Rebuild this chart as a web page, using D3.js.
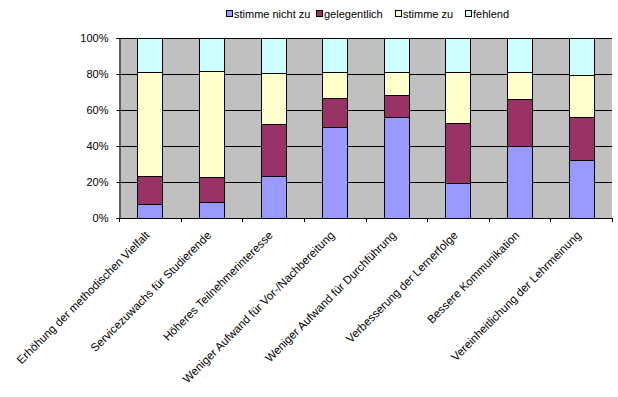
<!DOCTYPE html>
<html><head><meta charset="utf-8">
<script src="https://cdn.jsdelivr.net/npm/d3@7"></script>
<style>body{margin:0;background:#fff}svg{display:block}text{font-family:"Liberation Sans",Arial,sans-serif;font-size:11px;fill:#000}</style>
</head><body><svg id="c" width="618" height="397"></svg>
<script>
const categories = ["Erhöhung der methodischen Vielfalt","Servicezuwachs für Studierende","Höheres Teilnehmerinteresse","Weniger Aufwand für Vor-/Nachbereitung","Weniger Aufwand für Durchführung","Verbesserung der Lernerfolge","Bessere Kommunikation","Vereinheitlichung der Lehrmeinung"];
const seriesNames = ["stimme nicht zu","gelegentlich","stimme zu","fehlend"];
const stimmeNichtZu = [7.8, 8.9, 23.5, 50.6, 56.1, 19.4, 40.0, 32.2];
const gelegentlich  = [15.7, 14.1, 28.7, 16.1, 12.2, 33.4, 26.1, 23.9];
const stimmeZu      = [57.6, 58.7, 28.4, 14.4, 12.8, 28.3, 15.0, 23.3];
const fehlend       = [18.9, 18.3, 19.4, 18.9, 18.9, 18.9, 18.9, 20.6];
const yTicks = [0, 0.2, 0.4, 0.6, 0.8, 1];
const colors = ["#9999ff","#993366","#ffffcc","#ccffff"];

const svg = d3.select("#c");
const m = {l:119, r:612, t:38, b:218};
const x = d3.scaleBand().domain(categories).range([m.l, m.r]).paddingInner(0.595).paddingOuter(0.2975);
const xb = d3.scaleBand().domain(categories).range([m.l, m.r]);
const y = d3.scaleLinear().domain([0,1]).range([m.b, m.t]);

svg.append("rect").attr("x",m.l).attr("y",m.t).attr("width",m.r-m.l).attr("height",m.b-m.t).attr("fill","#c0c0c0");
svg.append("g").selectAll("line").data(yTicks.slice(1)).join("line")
  .attr("x1",m.l).attr("x2",m.r).attr("y1",d=>Math.round(y(d))+0.5).attr("y2",d=>Math.round(y(d))+0.5)
  .attr("stroke","#000").attr("stroke-width",1);

const rows = categories.map((c,i)=>({cat:c, s0:stimmeNichtZu[i], s1:gelegentlich[i], s2:stimmeZu[i], s3:fehlend[i]}));
rows.forEach(r=>{const t=r.s0+r.s1+r.s2+r.s3; ["s0","s1","s2","s3"].forEach(k=>r[k]=r[k]/t);});
const stack = d3.stack().keys(["s0","s1","s2","s3"])(rows);
svg.append("g").selectAll("g").data(stack).join("g").attr("fill",(d,i)=>colors[i])
  .selectAll("rect").data(d=>d).join("rect")
  .attr("x",d=>Math.round(x(d.data.cat))+0.5).attr("width",Math.round(x.bandwidth()))
  .attr("y",d=>Math.round(y(d[1]))+0.5).attr("height",d=>Math.round(y(d[0]))-Math.round(y(d[1])))
  .attr("stroke","#000").attr("stroke-width",1);

// y axis
const ya = svg.append("g").attr("transform",`translate(${m.l+0.5},0)`)
  .call(d3.axisLeft(y).tickValues(yTicks).tickFormat(d3.format(".0%")).tickSize(3).tickPadding(8));
ya.select(".domain").attr("stroke","#000");
ya.selectAll("text").style("font-size","11px").attr("dy","0.35em");
ya.selectAll(".tick line").attr("stroke","#000");

// x axis
const xg = svg.append("g");
xg.append("line").attr("x1",m.l).attr("x2",m.r+0.5).attr("y1",m.b+0.5).attr("y2",m.b+0.5).attr("stroke","#000");
const bounds = categories.map(c=>xb(c)).concat([m.r]);
xg.selectAll("line.t").data(bounds).join("line").attr("class","t")
  .attr("x1",d=>Math.round(d)+0.5).attr("x2",d=>Math.round(d)+0.5).attr("y1",m.b).attr("y2",m.b+4).attr("stroke","#000");
xg.selectAll("text").data(categories).join("text")
  .attr("text-anchor","end").style("font-size","11.5px")
  .attr("transform",d=>`translate(${xb(d)+xb.bandwidth()/2+0.5},${m.b+18}) rotate(-45)`)
  .text(d=>d);

// legend
const lx = [226, 316, 395, 465];
const lg = svg.append("g").selectAll("g").data(seriesNames).join("g")
  .attr("transform",(d,i)=>`translate(${lx[i]},0)`);
lg.append("rect").attr("x",0.5).attr("y",10.5).attr("width",6).attr("height",6).attr("fill",(d,i)=>colors[i]).attr("stroke","#000");
lg.append("text").attr("x",8).attr("y",18).text(d=>d);
</script></body></html>
